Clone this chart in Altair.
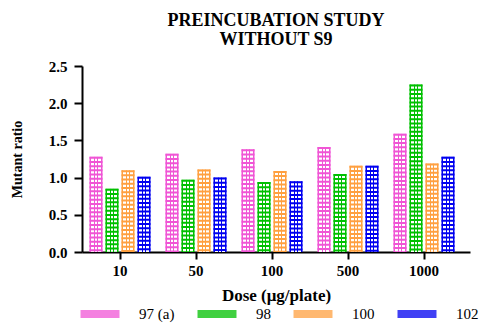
import altair as alt
import pandas as pd

doses = ["10", "50", "100", "500", "1000"]
strains = ["97 (a)", "98", "100", "102"]
ta97 = [1.28, 1.32, 1.38, 1.41, 1.59]
ta98 = [0.85, 0.97, 0.94, 1.05, 2.25]
ta100 = [1.10, 1.11, 1.09, 1.16, 1.19]
ta102 = [1.01, 1.00, 0.95, 1.16, 1.28]
colors = ["#F055D5", "#00C000", "#FFA040", "#0000F0"]
y_ticks = [0, 0.5, 1.0, 1.5, 2.0, 2.5]

rows = []
for i, d in enumerate(doses):
    for s, vals in zip(strains, [ta97, ta98, ta100, ta102]):
        rows.append({"dose": d, "strain": s, "ratio": vals[i]})
df = pd.DataFrame(rows)

FONT = "Liberation Serif"

x = alt.X(
    "dose:N", sort=doses,
    scale=alt.Scale(paddingInner=0, paddingOuter=0.0526, align=0),
    axis=alt.Axis(title="Dose (μg/plate)", labelAngle=0, tickSize=7,
                  labelPadding=4, labelFontSize=15, titleFontSize=17,
                  titleX=194, titleY=43, titleBaseline="middle"),
)
xo = alt.XOffset("strain:N", sort=strains,
                 scale=alt.Scale(paddingInner=0.1875, paddingOuter=0.469))
y = alt.Y(
    "ratio:Q", scale=alt.Scale(domain=[0, 2.5], nice=False),
    axis=alt.Axis(title="Mutant ratio", values=y_ticks, format=".1f",
                  tickSize=8, labelPadding=7, labelFontSize=15, titleFontSize=14,
                  titleX=-65, titleY=93, titleAngle=-90, titleAlign="center",
                  titleBaseline="middle"),
)
color = alt.Color(
    "strain:N", sort=strains,
    scale=alt.Scale(domain=strains, range=colors),
    legend=alt.Legend(
        title=None, orient="none", direction="horizontal",
        legendX=8, legendY=238,
        symbolType="M-2,-0.4H2V0.4H-2Z", symbolSize=380,
        symbolStrokeWidth=0, symbolOpacity=0.75,
        labelFont=FONT, labelFontSize=15, labelFontWeight="normal",
        labelOffset=29, columnPadding=22, labelColor="black",
    ),
)

# solid coloured bars
bars = alt.Chart(df).mark_bar().encode(x=x, xOffset=xo, y=y, color=color)

# white columns (gradient across each bar's width)
W = "white"
T = "rgba(255,255,255,0)"
stops = []
edges = [(0.0, T), (0.14, W), (0.32, T), (0.41, W), (0.59, T), (0.68, W), (0.86, T)]
for i, (o, c) in enumerate(edges):
    nxt = edges[i + 1][0] if i + 1 < len(edges) else 1.0
    stops.append(alt.GradientStop(offset=o, color=c))
    stops.append(alt.GradientStop(offset=nxt, color=c))
cols = alt.Chart(df).mark_bar(
    fill=alt.LinearGradient(gradient="linear", x1=0, y1=0, x2=1, y2=0, stops=stops)
).encode(x=x, xOffset=xo, y=y)

# coloured row lines over the columns (dashed wide rule)
rowlines = alt.Chart(df).mark_rule(
    strokeWidth=13, strokeDash=[2, 2.2], strokeCap="butt"
).encode(x=x, xOffset=xo, y=y, y2=alt.datum(0),
         stroke=alt.Stroke("strain:N", sort=strains,
                           scale=alt.Scale(domain=strains, range=colors),
                           legend=None))

chart = alt.layer(bars, cols, rowlines).properties(
    width=388, height=186,
    autosize=alt.AutoSizeParams(type="none"),
    padding={"left": 74, "top": 58, "right": 13, "bottom": 71},
    title=alt.Title(["PREINCUBATION STUDY", "WITHOUT S9"], font=FONT,
                    fontSize=18, fontWeight="bold", color="black",
                    anchor="middle", offset=10, lineHeight=19),
).configure_view(stroke=None).configure_axis(
    labelFont=FONT, titleFont=FONT, labelFontWeight="bold",
    titleFontWeight="bold", labelColor="black", titleColor="black",
    domainColor="black", domainWidth=2, tickColor="black", tickWidth=2,
    grid=False, zindex=1,
)

chart.save("out.html", embed_options={"renderer": "svg", "actions": False})
